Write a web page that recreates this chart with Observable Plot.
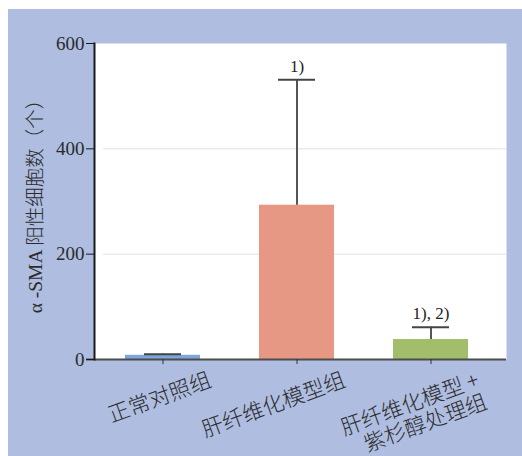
<!DOCTYPE html>
<html><head><meta charset="utf-8">
<script src="https://cdn.jsdelivr.net/npm/d3@7"></script>
<script src="https://cdn.jsdelivr.net/npm/@observablehq/plot@0.6"></script>
<style>body{margin:9px 0 0 8px;background:#fff} svg{display:block}</style>
</head><body><div id="chart"></div>
<script>
const categories = ["正常对照组", "肝纤维化模型组", "肝纤维化模型 +\n紫杉醇处理组"];
const means = [8, 293, 38];
const errorTops = [10, 531, 61];
const annotations = ["", "1)", "1), 2)"];
const barColors = ["#7ea6dc", "#e69884", "#a3be6a"];
const yTicks = [0, 200, 400, 600];
const gridValues = [200, 400];
const yLabel = "α -SMA 阳性细胞数（个）";

const data = categories.map((c, i) => ({group: c, mean: means[i], top: errorTops[i], note: annotations[i], color: barColors[i]}));
const serif = "'Liberation Serif', 'Noto Sans CJK SC', serif";
const cjk = "'Noto Sans CJK SC', sans-serif";

const chart = Plot.plot({
  width: 514, height: 447,
  marginLeft: 86, marginRight: 16, marginTop: 34, marginBottom: 97,
  style: {background: "#aebde0", fontFamily: serif, color: "#2b2b2b"},
  x: {domain: categories, paddingInner: 0.44, paddingOuter: 0.25, align: 0.45, label: null, axis: null},
  y: {domain: [0, 600], label: null, axis: null},
  marks: [
    Plot.frame({fill: "white", stroke: null}),
    Plot.ruleY(gridValues, {stroke: "#e0e0e0", strokeWidth: 1, insetLeft: 9}),
    Plot.barY(data, {x: "group", y: "mean", fill: "color"}),
    Plot.ruleX(data, {x: "group", y1: "mean", y2: "top", stroke: "#555", strokeWidth: 2}),
    Plot.tickY(data, {x: "group", y: "top", stroke: "#444", strokeWidth: 2, inset: 19}),
    Plot.text(data, {x: "group", y: "top", text: "note", dy: -8, lineAnchor: "bottom", fontSize: 17, fill: "#222"}),
    Plot.ruleY([0], {stroke: "#4d4d4d", strokeWidth: 2, insetLeft: -8}),
    Plot.frame({anchor: "left", stroke: "#1a1a1a", strokeWidth: 2}),
    Plot.axisY({ticks: yTicks, tickSize: 8, tickPadding: 2, fontSize: 19, label: null, stroke: "#1a1a1a"}),
    Plot.axisX({tickSize: 5, tickFormat: () => "", label: null, stroke: "#333"}),
    Plot.text(data, {x: "group", text: "group", frameAnchor: "bottom", dx: 44, dy: 11, rotate: -20, textAnchor: "end", lineAnchor: "top", fontSize: 21.5, fontWeight: 300, fontFamily: cjk, lineHeight: 1.08, fill: "#2b2b2b"}),
    Plot.text([yLabel], {text: d => d, frameAnchor: "left", dx: -59, rotate: -90, textAnchor: "middle", lineAnchor: "middle", fontSize: 19.5, fontWeight: 300, fill: "#2b2b2b"})
  ]
});
document.getElementById("chart").append(chart);
</script>
</body></html>
